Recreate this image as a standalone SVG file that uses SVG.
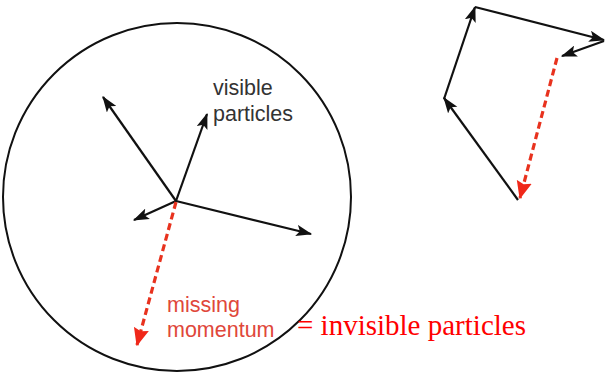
<svg xmlns="http://www.w3.org/2000/svg" width="606" height="376" viewBox="0 0 606 376">
<style>
.vec{stroke:#111;stroke-width:2.2;fill:none;marker-end:url(#ah)}
.miss{stroke:#e8321e;stroke-width:3.2;stroke-dasharray:7 4;fill:none;marker-end:url(#ahr)}
.lbl{font-family:"Liberation Sans",Arial,sans-serif;font-size:21.5px}
</style>
<defs>
<marker id="ah" markerUnits="userSpaceOnUse" markerWidth="16" markerHeight="12" refX="13" refY="5" orient="auto" viewBox="0 0 14 10">
<path d="M0,0 L14,5 L0,10 L3,5 Z" fill="#111"/>
</marker>
<marker id="ahr" markerUnits="userSpaceOnUse" markerWidth="18" markerHeight="16" refX="13" refY="6" orient="auto" viewBox="0 0 14 12">
<path d="M0,0 L14,6 L0,12 L2,6 Z" fill="#f0281a"/>
</marker>
</defs>
<rect width="606" height="376" fill="#fff"/>
<g id="event">
<circle cx="177" cy="197" r="174" fill="none" stroke="#111" stroke-width="2"/>
</g>
<g id="connectors">
<line class="vec" x1="176" y1="201" x2="103" y2="97"/>
<line class="vec" x1="176" y1="201" x2="207" y2="114"/>
<line class="vec" x1="176" y1="201" x2="134" y2="220"/>
<line class="vec" x1="176" y1="201" x2="311" y2="234"/>
<line class="miss" x1="176" y1="202" x2="137" y2="345"/>
<line class="vec" x1="518" y1="200" x2="444" y2="98"/>
<line class="vec" x1="444" y1="99" x2="475" y2="7"/>
<line class="vec" x1="475" y1="7" x2="604" y2="40"/>
<line class="vec" x1="604" y1="41" x2="562" y2="56"/>
<line class="miss" x1="557" y1="58" x2="520" y2="198"/>
</g>
<g id="visible-label">
<text class="lbl" fill="#333" x="213" y="95">visible</text>
<text class="lbl" fill="#333" x="213" y="121">particles</text>
</g>
<g id="missing-label">
<text class="lbl" fill="#e0473a" x="167" y="312">missing</text>
<text class="lbl" fill="#e0473a" x="167" y="337">momentum</text>
</g>
<g id="invisible-label">
<text x="297" y="335" font-family="'Liberation Serif','Times New Roman',serif" font-size="29" fill="#ff0000">= invisible particles</text>
</g>
</svg>
